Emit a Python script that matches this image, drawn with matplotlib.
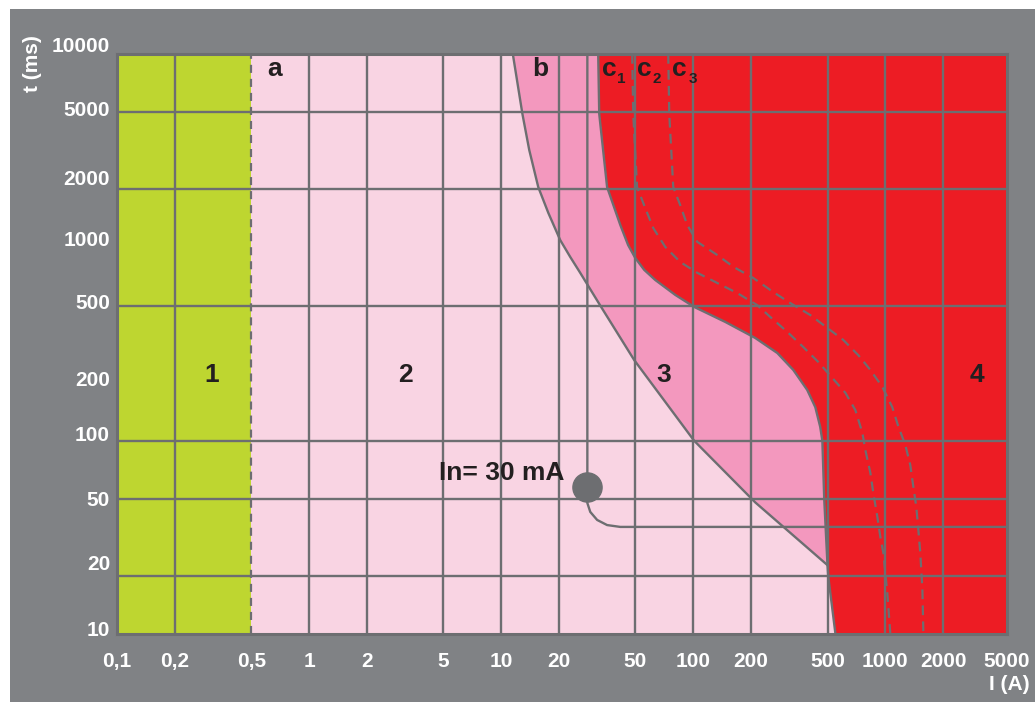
import matplotlib
matplotlib.use("Agg")
import matplotlib.pyplot as plt
from matplotlib.patches import Rectangle
from matplotlib.ticker import NullLocator
from matplotlib.transforms import ScaledTranslation

plt.rcParams['font.family'] = ['Liberation Sans', 'DejaVu Sans']
plt.rcParams['font.weight'] = 'bold'
plt.rcParams['lines.scale_dashes'] = False

# colours
bg_grey = '#808285'
line_grey = '#6d6e71'
green = '#bed630'
pink_light = '#f9d4e3'
pink_mid = '#f398be'
red = '#ed1c24'
ink = '#231f20'

# axes
x_ticks = [0.1, 0.2, 0.5, 1, 2, 5, 10, 20, 50, 100, 200, 500, 1000, 2000]
x_labels = ['0,1', '0,2', '0,5', '1', '2', '5', '10', '20', '50', '100', '200', '500', '1000', '2000']
x_max = 4300          # right edge of the picture, labelled 5000
x_max_label = '5000'
y_ticks = [10, 20, 50, 100, 200, 500, 1000, 2000, 5000, 10000]
y_labels = ['10', '20', '50', '100', '200', '500', '1000', '2000', '5000', '10000']
y_label_raise = [5, 13, 0, 7, 4, 4, 9, 12, 4, 10]   # px, labels sit a bit high in the original
grid_x = [0.2, 1, 2, 5, 10, 20, 50, 100, 200, 500, 1000, 2000]
grid_y = [20, 50, 100, 500, 2000, 5000]

# zone limits  (I in A, t in ms)
a_i = 0.5
b_i = [11.5, 12.9, 14.0, 15.6, 17.6, 20.3, 22.9, 25.8, 32.8, 49.3, 101, 210, 500]
b_t = [10000, 4900, 3190, 2050, 1507, 1090, 891, 738, 500, 261, 100, 48, 22.7]
c1_i = [32.0, 32.4, 35.6, 41.7, 45.8, 49.9, 55.6, 63.4, 80.5, 101, 147, 210, 274, 332,
        392, 432, 458, 470, 481, 500, 505, 550]
c1_t = [10000, 4900, 2050, 1306, 1028, 881, 764, 678, 568, 492, 411, 340, 284, 232,
        183, 149, 118, 100, 49.3, 22.7, 19.7, 10]
c2_i = [48.1, 48.7, 51.0, 56.2, 61.9, 71.5, 85.5, 105, 133, 169, 215, 252, 309, 374,
        448, 530, 619, 698, 759, 787, 836, 866, 909, 942, 977, 1024, 1062]
c2_t = [10000, 4900, 2050, 1600, 1259, 1005, 840, 738, 655, 581, 503, 436, 365, 305,
        255, 211, 177, 144, 110, 89.5, 68.1, 53.6, 40.3, 31.8, 26.2, 16.3, 10]
c3_i = [74.1, 75.0, 78.7, 85.5, 93.0, 105, 133, 162, 205, 261, 320, 406, 499, 604,
        723, 836, 964, 1087, 1170, 1271, 1349, 1400, 1450, 1486, 1521, 1560, 1578]
c3_t = [10000, 4900, 2050, 1656, 1306, 1067, 914, 792, 695, 587, 515, 447, 383, 332,
        277, 232, 190, 149, 118, 95, 74.8, 57.5, 45.4, 34.5, 26.2, 16.9, 10]

# 30 mA device curve
in_i = [28.1, 28.1, 29.1, 31.6, 35.6, 41.7, x_max]
in_t = [10000, 47.6, 42.8, 38.9, 36.6, 35.8, 35.8]
in_dot = (28.1, 57.5)

fig = plt.figure(figsize=(10.35, 7.02), dpi=100, facecolor='white')
fig.add_artist(Rectangle((10 / 1035, 0), 1, 1 - 9 / 702, transform=fig.transFigure,
                         facecolor=bg_grey, edgecolor='none', zorder=0))
ax = fig.add_axes([117 / 1035, 68 / 702, 890 / 1035, 580 / 702])
ax.set_facecolor(pink_light)
ax.set_xscale('log')
ax.set_yscale('log')
ax.set_xlim(0.1, x_max)
ax.set_ylim(10, 10000)

# zones
ax.axvspan(0.1, a_i, color=green, lw=0, zorder=1)
k = c1_t.index(b_t[-1])
mid_i = b_i + c1_i[:k + 1][::-1]
mid_t = b_t + c1_t[:k + 1][::-1]
ax.fill(mid_i, mid_t, color=pink_mid, lw=0, zorder=1)
ax.fill_betweenx(c1_t, c1_i, x_max, color=red, lw=0, zorder=1)

# grid
for gx in grid_x:
    ax.axvline(gx, color=line_grey, lw=1.7, zorder=2)
for gy in grid_y:
    ax.axhline(gy, color=line_grey, lw=1.7, zorder=2)

# curves
ax.axvline(a_i, color=line_grey, lw=1.6, dashes=(5.8, 4.3), zorder=3)
ax.plot(b_i, b_t, color=line_grey, lw=1.7, solid_joinstyle='round', zorder=3)
ax.plot(c1_i, c1_t, color=line_grey, lw=1.7, solid_joinstyle='round', zorder=3)
ax.plot(c2_i, c2_t, color=line_grey, lw=1.6, dashes=(7, 4.5), zorder=3)
ax.plot(c3_i, c3_t, color=line_grey, lw=1.6, dashes=(7, 4.5), zorder=3)
ax.plot(in_i, in_t, color=line_grey, lw=1.7, solid_joinstyle='round', zorder=3)
ax.plot(*in_dot, 'o', color=line_grey, markersize=21, zorder=4)

# labels in the chart
ax.text(0.658, 7710, 'a', ha='center', va='baseline', fontsize=19, color=ink, zorder=5)
ax.text(15.9, 7710, 'b', ha='center', va='baseline', fontsize=19, color=ink, zorder=5)
for cx, sx, sub in [(36.7, 40.2, '1'), (55.8, 61.1, '2'), (84.3, 94.2, '3')]:
    ax.text(cx, 7710, 'c', ha='center', va='baseline', fontsize=19, color=ink, zorder=5)
    ax.text(sx, 7080, sub, ha='left', va='baseline', fontsize=11, color=ink, zorder=5)
for zx, zone in [(0.313, '1'), (3.16, '2'), (69.8, '3'), (3013, '4')]:
    ax.text(zx, 201, zone, ha='center', va='baseline', fontsize=19, color=ink, zorder=5)
ax.text(21.3, 62.7, 'In= 30 mA', ha='right', va='baseline', fontsize=19, color=ink, zorder=5)

# ticks
ax.xaxis.set_minor_locator(NullLocator())
ax.yaxis.set_minor_locator(NullLocator())
ax.set_xticks(x_ticks + [x_max], x_labels + [x_max_label])
ax.set_yticks(y_ticks, y_labels)
ax.tick_params(axis='x', length=0, pad=13, labelsize=15, labelcolor='white')
ax.tick_params(axis='y', length=0, pad=5, labelsize=15, labelcolor='white')
for tick, dy in zip(ax.yaxis.get_major_ticks(), y_label_raise):
    lab = tick.label1
    lab.set_transform(lab.get_transform() + ScaledTranslation(0, dy / 100, fig.dpi_scale_trans))
for s in ax.spines.values():
    s.set_color(line_grey)
    s.set_linewidth(2.2)
    s.set_zorder(6)

fig.text(32 / 1035, 1 - 64 / 702, 't (ms)', rotation=90, ha='center', va='center',
         fontsize=15, color='white')
fig.text(1030 / 1035, 12 / 702, 'I (A)', ha='right', va='baseline', fontsize=15, color='white')

fig.savefig('out.png', dpi=100, facecolor='white')
